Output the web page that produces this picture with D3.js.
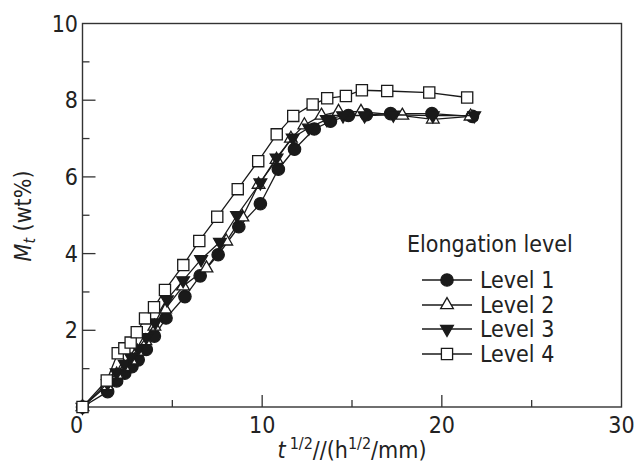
<html>
<head>
<style>
  body { margin: 0; background: #fff; }
  text { font-family: "DejaVu Sans Condensed", "DejaVu Sans", sans-serif; fill: #222; }
</style>
</head>
<body>
<svg id="cont" width="638" height="466"></svg>
<script src="https://cdn.jsdelivr.net/npm/d3@7"></script>
<script>
// values: [t^1/2/L, Mt]
var level1 = [[0,0],[1.4,0.4],[1.9,0.68],[2.35,0.88],[2.75,1.05],[3.1,1.23],[3.55,1.5],[4.0,1.85],[4.65,2.32],[5.7,2.88],[6.55,3.42],[7.55,3.97],[8.7,4.7],[9.9,5.3],[10.9,6.2],[11.8,6.72],[12.9,7.25],[13.8,7.45],[14.8,7.6],[15.8,7.62],[17.15,7.65],[19.45,7.65],[21.7,7.58]];
var level2 = [[0,0],[1.35,0.55],[1.9,0.85],[2.3,1.05],[2.7,1.22],[3.05,1.45],[3.5,1.72],[4.0,2.1],[4.6,2.55],[5.6,3.15],[6.9,3.62],[8.0,4.32],[8.9,4.95],[9.8,5.8],[10.8,6.45],[11.6,7.0],[12.35,7.35],[13.3,7.6],[14.25,7.7],[15.5,7.7],[17.8,7.6],[19.5,7.5],[21.6,7.58]];
var level3 = [[0,0],[1.4,0.62],[1.9,0.9],[2.35,1.12],[2.7,1.3],[3.1,1.52],[3.55,1.82],[4.05,2.2],[4.7,2.8],[5.6,3.3],[6.6,3.85],[7.65,4.3],[8.6,5.0],[9.9,5.85],[10.8,6.5],[11.7,7.02],[12.6,7.28],[13.6,7.5],[14.5,7.6],[15.7,7.6],[17.3,7.62],[19.5,7.6],[21.8,7.6]];
var level4 = [[0,0],[1.35,0.69],[1.96,1.4],[2.33,1.53],[2.68,1.68],[3.02,1.95],[3.48,2.31],[3.98,2.6],[4.59,3.05],[5.61,3.7],[6.5,4.33],[7.5,4.96],[8.64,5.68],[9.78,6.41],[10.81,7.11],[11.73,7.59],[12.81,7.89],[13.62,8.05],[14.66,8.11],[15.55,8.26],[16.96,8.24],[19.3,8.2],[21.41,8.07]];

var seriesNames = ["Level 1", "Level 2", "Level 3", "Level 4"];
var seriesData = [level1, level2, level3, level4];
var xTicks = [0, 10, 20, 30];
var yTicks = [2, 4, 6, 8, 10];

var svg = d3.select("#cont");
var mLeft = 82.5, mRight = 621.5, mTop = 23.5, mBottom = 407;

var x = d3.scaleLinear().domain([0, 30]).range([mLeft, mRight]);
var y = d3.scaleLinear().domain([0, 10]).range([mBottom, mTop]);

// frame
svg.append("rect")
  .attr("x", mLeft).attr("y", mTop)
  .attr("width", mRight - mLeft).attr("height", mBottom - mTop)
  .attr("fill", "none").attr("stroke", "#333").attr("stroke-width", 1.4);

// inward ticks
d3.range(0, 31, 5).forEach(function(v) {
  if (v === 0 || v === 30) return;
  var len = v % 10 === 0 ? 12 : 7;
  svg.append("line").attr("x1", x(v)).attr("x2", x(v))
    .attr("y1", mBottom).attr("y2", mBottom - len)
    .attr("stroke", "#333").attr("stroke-width", 1.3);
});
d3.range(1, 10).forEach(function(v) {
  var len = v % 2 === 0 ? 13 : 7;
  svg.append("line").attr("x1", mLeft).attr("x2", mLeft + len)
    .attr("y1", y(v)).attr("y2", y(v))
    .attr("stroke", "#333").attr("stroke-width", 1.3);
});

svg.selectAll(".xl").data(xTicks).enter().append("text")
  .attr("x", d => d === 0 ? x(d) - 6 : x(d))
  .attr("y", 433)
  .attr("text-anchor", "middle")
  .attr("font-size", 23)
  .text(d => d);

svg.selectAll(".yl").data(yTicks).enter().append("text")
  .attr("x", 78)
  .attr("y", d => y(d) + 8)
  .attr("text-anchor", "end")
  .attr("font-size", 23)
  .text(d => d);

// axis titles
var xt = svg.append("text").attr("x", 352).attr("y", 458)
  .attr("text-anchor", "middle").attr("font-size", 23);
xt.append("tspan").attr("font-style", "italic").text("t");
xt.append("tspan").attr("dx", 4).attr("dy", -9).attr("font-size", 16).text("1/2");
xt.append("tspan").attr("dy", 9).text("//(h");
xt.append("tspan").attr("dy", -9).attr("font-size", 16).text("1/2");
xt.append("tspan").attr("dy", 9).text("/mm)");

var yt = svg.append("text")
  .attr("transform", "translate(31,216) rotate(-90)")
  .attr("text-anchor", "middle").attr("font-size", 23);
yt.append("tspan").attr("font-style", "italic").text("M");
yt.append("tspan").attr("font-style", "italic").attr("font-size", 16).attr("dy", 4).text("t");
yt.append("tspan").attr("dy", -4).text(" (wt%)");

// markers
var symGen = [
  d3.symbol().type(d3.symbolCircle).size(120),
  d3.symbol().type(d3.symbolTriangle).size(70),
  d3.symbol().type(d3.symbolTriangle).size(70),
  d3.symbol().type(d3.symbolSquare).size(125)
];
var fills = ["#1a1a1a", "#fff", "#1a1a1a", "#fff"];
var rot = [0, 0, 180, 0];

function marker(g, i, px, py) {
  g.append("path")
    .attr("d", symGen[i]())
    .attr("transform", "translate(" + px + "," + py + ") rotate(" + rot[i] + ")")
    .attr("fill", fills[i])
    .attr("stroke", "#1a1a1a")
    .attr("stroke-width", 1.3);
}

var line = d3.line().x(d => x(d[0])).y(d => y(d[1]));

seriesData.forEach(function(data, i) {
  var g = svg.append("g");
  g.append("path").datum(data).attr("d", line)
    .attr("fill", "none").attr("stroke", "#1a1a1a").attr("stroke-width", 1.3);
  data.forEach(function(d) { marker(g, i, x(d[0]), y(d[1])); });
});

// legend
svg.append("text").attr("x", 407).attr("y", 252).attr("font-size", 23)
  .text("Elongation level");
var legY = [280, 305, 329, 354];
seriesNames.forEach(function(name, i) {
  var g = svg.append("g");
  g.append("line").attr("x1", 422).attr("x2", 472)
    .attr("y1", legY[i]).attr("y2", legY[i])
    .attr("stroke", "#1a1a1a").attr("stroke-width", 1.3);
  marker(g, i, 447, legY[i]);
  g.append("text").attr("x", 480).attr("y", legY[i] + 8)
    .attr("font-size", 23).text(name);
});
</script>
</body>
</html>
